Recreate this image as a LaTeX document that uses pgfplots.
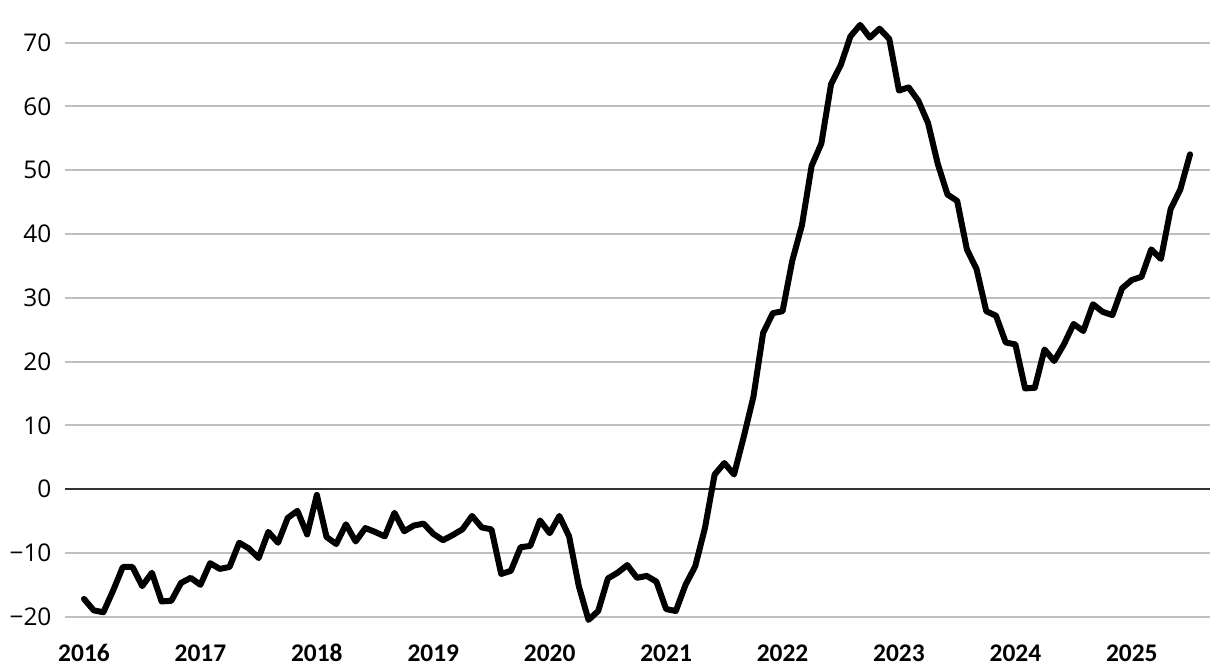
\documentclass[border=0pt]{standalone}
\usepackage{fontspec}
\setmainfont{Open Sans}
\newfontfamily\carlito{Carlito}
\usepackage{pgfplots}
\pgfplotsset{compat=1.18}
\definecolor{gridgray}{RGB}{191,191,191}
\definecolor{zeroline}{RGB}{51,51,51}
\pgfplotstableread{
m v
0 -17.2
1 -19.0
2 -19.3
3 -15.9
4 -12.2
5 -12.2
6 -15.2
7 -13.1
8 -17.6
9 -17.5
10 -14.7
11 -13.9
12 -15.0
13 -11.6
14 -12.5
15 -12.2
16 -8.4
17 -9.3
18 -10.8
19 -6.7
20 -8.4
21 -4.5
22 -3.4
23 -7.1
24 -0.9
25 -7.5
26 -8.6
27 -5.5
28 -8.2
29 -6.1
30 -6.7
31 -7.4
32 -3.7
33 -6.6
34 -5.7
35 -5.4
36 -7.0
37 -8.0
38 -7.2
39 -6.3
40 -4.2
41 -6.0
42 -6.3
43 -13.3
44 -12.8
45 -9.1
46 -8.9
47 -4.9
48 -6.9
49 -4.2
50 -7.4
51 -15.2
52 -20.5
53 -19.1
54 -14.0
55 -13.1
56 -11.9
57 -13.9
58 -13.6
59 -14.5
60 -18.8
61 -19.1
62 -15.0
63 -12.1
64 -6.1
65 2.3
66 4.1
67 2.3
68 8.2
69 14.5
70 24.5
71 27.6
72 27.9
73 35.8
74 41.4
75 50.7
76 54.2
77 63.5
78 66.5
79 71.0
80 72.8
81 70.8
82 72.2
83 70.6
84 62.5
85 63.0
86 60.9
87 57.4
88 51.0
89 46.2
90 45.2
91 37.6
92 34.5
93 27.9
94 27.2
95 23.0
96 22.7
97 15.8
98 15.9
99 21.9
100 20.1
101 22.7
102 25.9
103 24.8
104 29.0
105 27.8
106 27.3
107 31.5
108 32.8
109 33.3
110 37.6
111 36.1
112 43.9
113 47.0
114 52.5
}\datatable
\begin{document}
\begin{tikzpicture}
\useasboundingbox (0,0) rectangle (610pt,336pt);
\begin{axis}[
  at={(32.5pt,21.25pt)}, anchor=south west,
  scale only axis, width=572.5pt, height=306.15pt,
  xmin=-1.958, xmax=116.06, ymin=-22, ymax=74,
  axis line style={draw=none},
  major tick length=0pt,
  xtick={0,12,24,36,48,60,72,84,96,108},
  xticklabels={2016,2017,2018,2019,2020,2021,2022,2023,2024,2025},
  ytick={-20,-10,0,10,20,30,40,50,60,70},
  yticklabels={−20,−10,0,10,20,30,40,50,60,70},
  ymajorgrids,
  major grid style={gridgray, line width=1pt},
  yticklabel style={anchor=east, inner sep=0pt, text height=8.7pt, text depth=0pt, xshift=-6.6pt, font=\fontsize{12.2}{14}\selectfont},
  xticklabel style={anchor=base, inner sep=0pt, yshift=-15.8pt, font=\carlito\bfseries\fontsize{12.7}{14}\selectfont},
  clip=false,
]
\draw[zeroline, line width=1pt] (axis cs:-1.958,0) -- (axis cs:116.06,0);
\addplot[black, line width=3pt, line join=round, line cap=round] table[x=m, y=v] {\datatable};
\end{axis}
\end{tikzpicture}
\end{document}
